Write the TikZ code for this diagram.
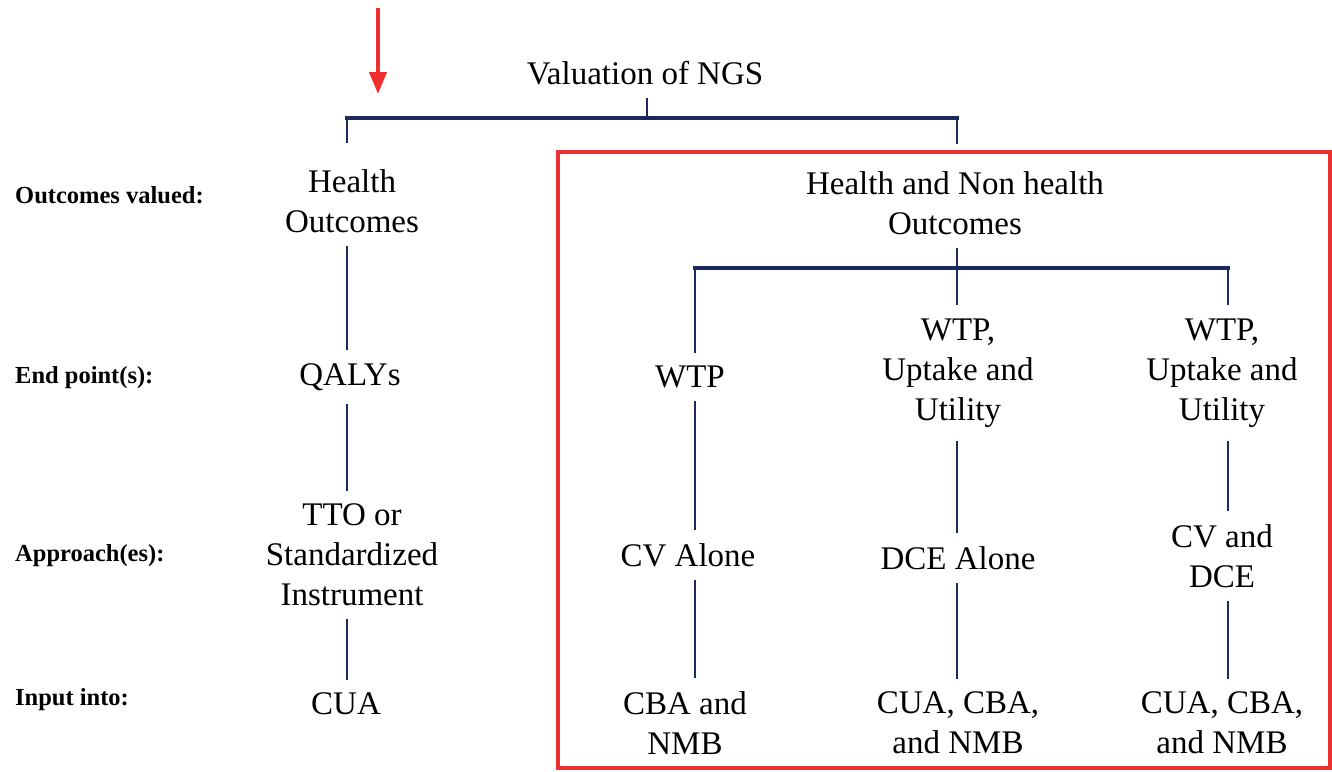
\documentclass[tikz,border=0pt]{standalone}
\usepackage{fontspec}
\setmainfont{Liberation Serif}
\usetikzlibrary{arrows.meta}
\definecolor{navy}{HTML}{1B2A5C}
\definecolor{redm}{HTML}{EE3030}
\tikzset{
  txt/.style={font=\fontsize{33}{40}\selectfont, align=center, inner xsep=0pt, inner ysep=13pt},
  lab/.style={font=\fontsize{24.5}{28}\selectfont\bfseries, anchor=west, inner sep=0pt},
  conn/.style={draw=navy, line width=2.2pt},
  bar/.style={draw=navy, line width=3.2pt, line cap=rect},
  redbox/.style={draw=redm, line width=4pt},
  redarrow/.style={draw=redm, line width=4pt, -{Triangle[length=22pt,width=17pt]}}
}
\begin{document}
\begin{tikzpicture}[x=1pt,y=-1pt]
\useasboundingbox (0,0) rectangle (1332,771);
% red highlight
\draw[redbox] (558,152) rectangle (1330,768);
\coordinate (arrS) at (378,8);
\coordinate (arrE) at (378,94);
\draw[redarrow] (arrS) -- (arrE);

% column x positions
\coordinate (cA) at (347,0);
\coordinate (cB) at (695,0);
\coordinate (cC) at (957,0);
\coordinate (cD) at (1228,0);

% row labels
\node[lab] (l1) at (15,195) {Outcomes valued:};
\node[lab] (l2) at (15,378) {End point(s):};
\node[lab] (l3) at (15,556) {Approach(es):};
\node[lab] (l4) at (15,700) {Input into:};

% nodes
\node[txt] (val) at (645,73) {Valuation of NGS};
\node[txt] (ho) at (352,201) {Health\\Outcomes};
\node[txt] (qaly) at (350,377) {QALYs};
\node[txt] (tto) at (352,555) {TTO or\\Standardized\\Instrument};
\node[txt] (cua) at (346,704) {CUA};

\node[txt] (hn) at (955,203) {Health and Non health\\Outcomes};
\node[txt] (wtp) at (690,377) {WTP};
\node[txt] (wu1) at (958,373) {WTP,\\Uptake and\\Utility};
\node[txt] (wu2) at (1222,373) {WTP,\\Uptake and\\Utility};
\node[txt] (cv) at (688,555) {CV Alone};
\node[txt] (dce) at (958,558) {DCE Alone};
\node[txt] (cvd) at (1222,556) {CV and\\DCE};
\node[txt] (cba) at (685,723) {CBA and\\NMB};
\node[txt] (all1) at (958,723) {CUA, CBA,\\and NMB};
\node[txt] (all2) at (1222,723) {CUA, CBA,\\and NMB};

% top branching
\coordinate (t0) at (647,118);
\coordinate (tL) at (347,118);
\coordinate (tR) at (957,118);
\draw[conn] (val.south -| t0) -- (t0);
\draw[bar] (tL) -- (tR);
\draw[conn] (tL) -- ([yshift=13pt]ho.north -| cA);
\draw[conn] (tR) -- ([yshift=14pt]hn.north -| cC);

% left column
\draw[conn] (ho.south -| cA) -- (qaly.north -| cA);
\draw[conn] (qaly.south -| cA) -- (tto.north -| cA);
\draw[conn] (tto.south -| cA) -- (cua.north -| cA);

% second branching
\coordinate (s0) at (957,268);
\coordinate (sL) at (695,268);
\coordinate (sR) at (1228,268);
\draw[conn] (hn.south -| s0) -- (s0);
\draw[bar] (sL) -- (sR);
\draw[conn] (sL) -- (wtp.north -| cB);
\draw[conn] (s0) -- (wu1.north -| cC);
\draw[conn] (sR) -- (wu2.north -| cD);

% columns
\draw[conn] (wtp.south -| cB) -- (cv.north -| cB);
\draw[conn] (cv.south -| cB) -- (cba.north -| cB);
\draw[conn] (wu1.south -| cC) -- (dce.north -| cC);
\draw[conn] (dce.south -| cC) -- (all1.north -| cC);
\draw[conn] (wu2.south -| cD) -- (cvd.north -| cD);
\draw[conn] (cvd.south -| cD) -- (all2.north -| cD);
\end{tikzpicture}
\end{document}
